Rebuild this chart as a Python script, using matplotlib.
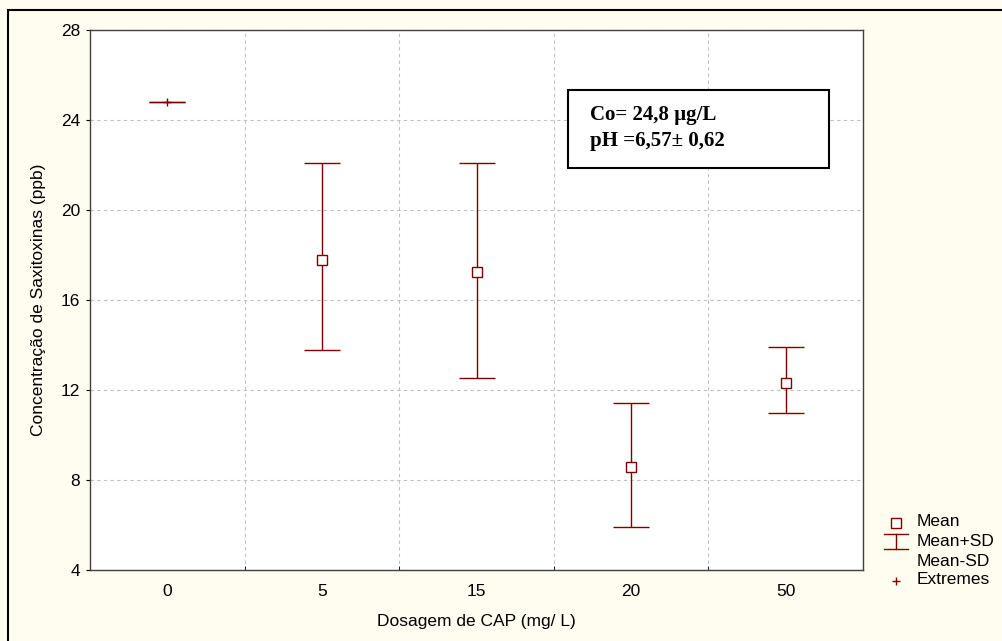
import matplotlib.pyplot as plt
from matplotlib.patches import Rectangle
from matplotlib.lines import Line2D
import numpy as np

# Dosagem de CAP (mg/L) vs concentracao de saxitoxinas
categories = ['0', '5', '15', '20', '50']
means = [24.8, 17.8, 17.25, 8.6, 12.3]
upper = [24.8, 22.08, 22.08, 11.42, 13.9]   # Mean+SD
lower = [24.8, 13.8, 12.55, 5.9, 11.0]      # Mean-SD
extreme_idx = [0]
extreme_vals = [24.8]

red = '#800000'
bg = '#fffcf0'
fs = 12.5

fig = plt.figure(figsize=(10.03, 6.41), dpi=100, facecolor=bg)
ax = fig.add_axes([90/1003, 1-570/641, (863-90)/1003, (570-30)/641])
ax.set_facecolor('white')

x = np.arange(len(categories))
means = np.array(means)
yerr = [means - np.array(lower), np.array(upper) - means]

ax.errorbar(x, means, yerr=yerr, fmt='none', ecolor=red, elinewidth=1,
            capsize=13.3, capthick=1, zorder=3)
ax.plot(x[1:], means[1:], 's', ms=6.5, mfc='white', mec=red, mew=1, zorder=4)
ax.plot(x[extreme_idx], extreme_vals, '+', color=red, ms=6, mew=1, zorder=5)

ax.set_xlim(-0.5, len(categories) - 0.5)
ax.set_ylim(4, 28)
ax.set_yticks(np.arange(4, 29, 4))
ax.set_xticks(x)
ax.set_xticklabels(categories)
ax.set_xticks(x[:-1] + 0.5, minor=True)
ax.tick_params(axis='x', which='major', length=0, pad=10)
ax.tick_params(axis='x', which='minor', length=3, direction='in')
ax.tick_params(axis='y', length=3, direction='out', pad=4)
ax.grid(True, axis='x', which='minor', color='#c0c0c0', ls=(0, (3, 3)), lw=0.8)
ax.grid(True, axis='y', which='major', color='#c0c0c0', ls=(0, (3, 3)), lw=0.8)
ax.set_axisbelow(True)
for s in ax.spines.values():
    s.set_color('#404040')
    s.set_linewidth(1)

for lab in ax.get_xticklabels() + ax.get_yticklabels():
    lab.set_fontfamily('Liberation Sans')
    lab.set_fontsize(fs)

ax.set_xlabel('Dosagem de CAP (mg/ L)', family='Liberation Sans', fontsize=fs, labelpad=11)
ax.set_ylabel('Concentração de Saxitoxinas (ppb)', family='Liberation Sans', fontsize=fs, labelpad=11)

# info box
box = Rectangle((568/1003, 1-168/641), (829-568)/1003, (168-90)/641,
                transform=fig.transFigure, facecolor='white', edgecolor='black', lw=1.5, zorder=6)
ax.add_patch(box)
box.set_clip_on(False)
fig.text(590/1003, 1-115/641, 'Co= 24,8 µg/L', family='Liberation Serif', weight='bold',
         fontsize=15, va='center', ha='left', zorder=7)
fig.text(590/1003, 1-141/641, 'pH =6,57± 0,62', family='Liberation Serif', weight='bold',
         fontsize=15, va='center', ha='left', zorder=7)

# legend
def fx(p):
    return p/1003
def fy(p):
    return 1 - p/641

fig.add_artist(Line2D([fx(896)], [fy(522.5)], marker='s', ms=6.5, mfc='white', mec=red, mew=1))
fig.add_artist(Line2D([fx(884), fx(908)], [fy(534), fy(534)], color=red, lw=1))
fig.add_artist(Line2D([fx(884), fx(908)], [fy(549), fy(549)], color=red, lw=1))
fig.add_artist(Line2D([fx(896), fx(896)], [fy(534), fy(549)], color=red, lw=1))
fig.add_artist(Line2D([fx(896)], [fy(580.5)], marker='+', ms=6, color=red, mew=1))
for lbl, yy in [('Mean', 522), ('Mean+SD', 542), ('Mean-SD', 561), ('Extremes', 580)]:
    fig.text(fx(917), fy(yy), lbl, family='Liberation Sans', fontsize=fs, va='center', ha='left')

# figure frame
fig.add_artist(Rectangle((fx(8), -0.1), 1.2, fy(10) + 0.1, transform=fig.transFigure,
                         fill=False, edgecolor='black', lw=1.5))

plt.savefig('out.png', dpi=100, facecolor=bg)
